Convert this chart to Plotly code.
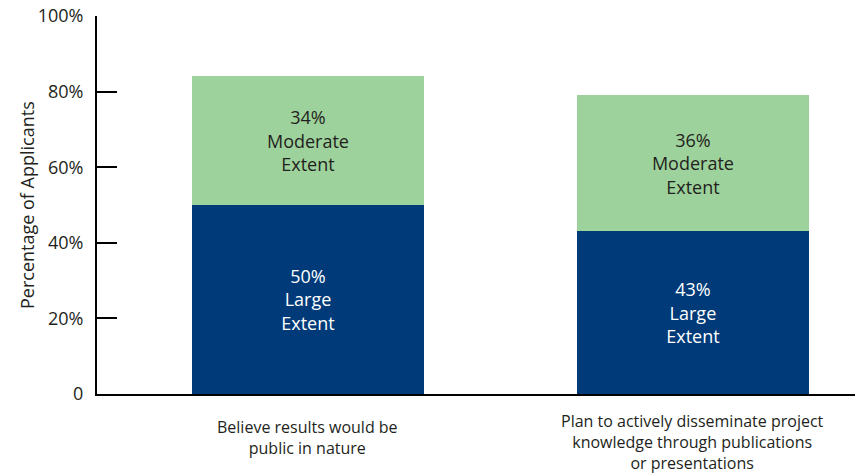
import plotly.graph_objects as go

# Survey results: extent to which applicants agree with each statement
categories = [
    "Believe results would be<br>public in nature",
    "Plan to actively disseminate project<br>knowledge through publications<br>or presentations",
]
large_extent = [50, 43]
moderate_extent = [34, 36]
y_tick_values = [0, 20, 40, 60, 80, 100]
y_tick_labels = ["0", "20%", "40%", "60%", "80%", "100%"]

FONT = "Open Sans, Noto Sans, sans-serif"
TEXT_COLOR = "#231f20"
BLUE = "#003a78"
GREEN = "#9ed29c"

x_idx = list(range(len(categories)))

fig = go.Figure()
fig.add_trace(go.Bar(
    x=x_idx, y=large_extent, width=0.6026,
    marker=dict(color=BLUE, line=dict(width=0)),
    text=[f"{v}%<br>Large<br>Extent" for v in large_extent],
    textposition="inside", insidetextanchor="middle",
    textfont=dict(family=FONT, size=18, color="white"),
    hoverinfo="skip",
))
fig.add_trace(go.Bar(
    x=x_idx, y=moderate_extent, width=0.6026,
    marker=dict(color=GREEN, line=dict(width=0)),
    text=[f"{v}%<br>Moderate<br>Extent" for v in moderate_extent],
    textposition="inside", insidetextanchor="middle",
    textfont=dict(family=FONT, size=18, color=TEXT_COLOR),
    hoverinfo="skip",
))

# category labels beneath the bars
label_y = [-0.115, -0.127]
for i, (cat, yy) in enumerate(zip(categories, label_y)):
    fig.add_annotation(
        x=i, y=yy, xref="x", yref="paper", text=cat, showarrow=False,
        xanchor="center", yanchor="middle",
        font=dict(family=FONT, size=16, color=TEXT_COLOR),
    )

fig.add_annotation(
    x=-0.0923, y=0.5, xref="paper", yref="paper",
    text="Percentage of Applicants", textangle=-90, showarrow=False,
    xanchor="center", yanchor="middle",
    font=dict(family=FONT, size=18, color=TEXT_COLOR),
)

fig.update_layout(
    barmode="stack",
    width=855, height=473,
    margin=dict(l=97, r=0, t=16, b=79),
    paper_bgcolor="white", plot_bgcolor="white",
    showlegend=False,
    xaxis=dict(
        range=[-0.548, 1.421], showticklabels=False, ticks="",
        showgrid=False, zeroline=False,
        showline=True, linecolor="black", linewidth=2,
    ),
    yaxis=dict(
        range=[0, 100], tickvals=y_tick_values, ticktext=y_tick_labels,
        ticks="inside", ticklen=20, tickwidth=2, tickcolor="black",
        ticklabelstandoff=8,
        tickfont=dict(family=FONT, size=18, color=TEXT_COLOR),
        showgrid=False, zeroline=False,
        showline=True, linecolor="black", linewidth=2,
    ),
)

fig.write_html("out.html")
